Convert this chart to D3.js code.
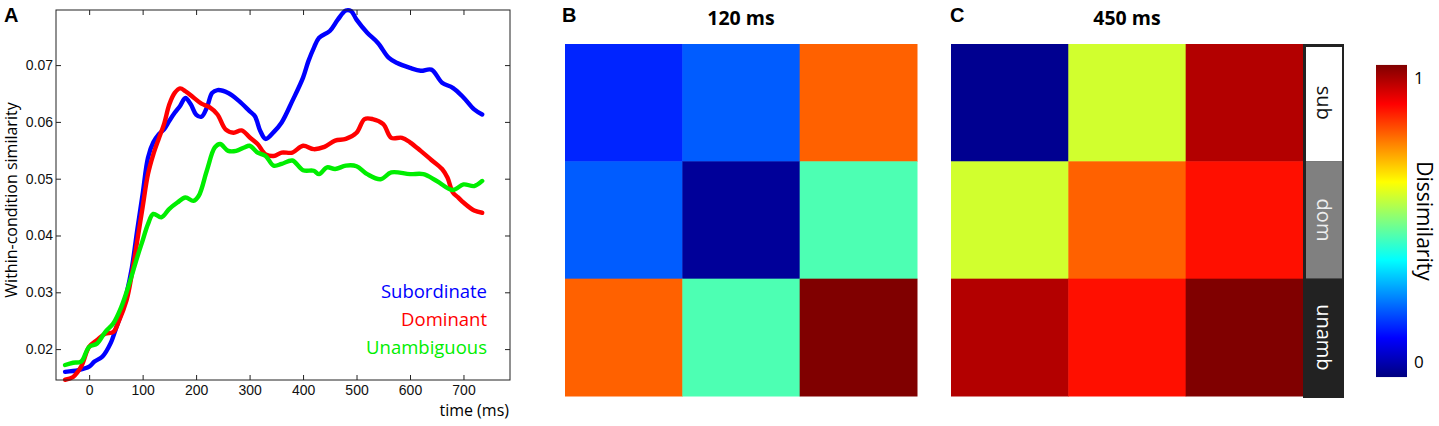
<!DOCTYPE html>
<html>
<head>
<meta charset="utf-8">
<script src="https://cdn.jsdelivr.net/npm/d3@7"></script>
<style>
  body { margin: 0; background: #fff; }
  svg { display: block; }
  .tick text { font-family: "Liberation Sans", Arial, sans-serif; font-size: 14px; fill: #111; }
</style>
</head>
<body>
<svg id="fig" width="1439" height="426"></svg>
<script>
// ---- data ----
var xTicks = [0, 100, 200, 300, 400, 500, 600, 700];
var yTicks = [0.02, 0.03, 0.04, 0.05, 0.06, 0.07];

// [time (ms), within-condition similarity]
var subordinate = [[-45,0.016],[-20,0.0163],[0,0.0169],[10,0.0178],[25,0.0187],[40,0.021],[50,0.0236],[60,0.0263],[70,0.0298],[80,0.0344],[90,0.041],[100,0.0473],[110,0.0537],[120,0.0564],[130,0.0578],[140,0.0587],[150,0.0602],[160,0.0616],[170,0.0628],[180,0.0642],[190,0.0631],[200,0.0613],[210,0.0609],[220,0.0625],[230,0.0651],[240,0.0656],[260,0.0651],[280,0.0637],[300,0.0619],[310,0.061],[320,0.0584],[330,0.057],[345,0.0582],[360,0.0599],[380,0.0637],[400,0.0678],[410,0.0707],[420,0.073],[430,0.0748],[450,0.076],[465,0.078],[480,0.0796],[490,0.0795],[500,0.078],[520,0.0757],[540,0.0739],[560,0.0713],[575,0.0704],[600,0.0695],[620,0.069],[640,0.0692],[660,0.0669],[680,0.066],[700,0.0643],[720,0.0622],[735,0.0613]];
var dominant = [[-45,0.0146],[-30,0.0151],[-15,0.0169],[0,0.0204],[15,0.0216],[30,0.0227],[45,0.023],[55,0.0248],[70,0.0286],[80,0.0333],[90,0.0391],[100,0.045],[110,0.0508],[120,0.0543],[130,0.057],[140,0.0596],[150,0.0631],[160,0.0651],[170,0.0659],[180,0.0654],[195,0.0643],[210,0.0632],[225,0.0626],[240,0.0613],[255,0.0587],[270,0.0581],[285,0.0585],[300,0.0573],[315,0.0561],[330,0.0543],[345,0.054],[360,0.0546],[380,0.0546],[400,0.0558],[420,0.0552],[440,0.0556],[460,0.0567],[480,0.057],[500,0.0581],[515,0.0605],[530,0.0605],[550,0.0596],[565,0.0572],[585,0.0572],[600,0.0564],[620,0.0549],[640,0.0533],[660,0.0517],[670,0.0502],[680,0.0476],[690,0.0467],[700,0.0458],[720,0.0444],[735,0.044]];
var unambiguous = [[-45,0.0172],[-30,0.0176],[-15,0.0178],[0,0.0204],[15,0.021],[30,0.023],[45,0.0245],[60,0.0274],[75,0.0315],[90,0.0362],[100,0.0391],[110,0.042],[120,0.0438],[135,0.0432],[150,0.0447],[165,0.0458],[180,0.0467],[195,0.0461],[205,0.047],[220,0.0514],[235,0.0555],[245,0.0561],[260,0.0549],[275,0.0549],[290,0.0555],[300,0.0558],[315,0.0546],[330,0.054],[345,0.0523],[360,0.0526],[380,0.0532],[400,0.0515],[420,0.0514],[430,0.0508],[445,0.052],[460,0.0517],[480,0.0523],[500,0.0522],[520,0.0508],[545,0.0499],[565,0.0511],[600,0.0508],[625,0.0508],[650,0.0496],[680,0.048],[700,0.049],[720,0.0487],[735,0.0496]];

var seriesNames = ["Subordinate", "Dominant", "Unambiguous"];
var seriesColors = ["#0000ff", "#ff0000", "#00ee00"];

// dissimilarity matrices (rows/cols: sub, dom, unamb)
var conditions = ["sub", "dom", "unamb"];
var rdm120 = [[0.16, 0.215, 0.78], [0.215, 0.025, 0.45], [0.78, 0.45, 1.0]];
var rdm450 = [[0.016, 0.58, 0.95], [0.58, 0.78, 0.86], [0.95, 0.86, 1.0]];
var cbTicks = [0, 1];

// MATLAB style jet colormap
function jet(v) {
  var c = function(a) { return Math.max(0, Math.min(1, a)); };
  var r = c(Math.min(4 * v - 1.5, -4 * v + 4.5)),
      g = c(Math.min(4 * v - 0.5, -4 * v + 3.5)),
      b = c(Math.min(4 * v + 0.5, -4 * v + 2.5));
  return d3.rgb(r * 255, g * 255, b * 255).formatHex();
}

var svg = d3.select("#fig");
var sans = "'Open Sans', 'DejaVu Sans', sans-serif";
var arial = "'Liberation Sans', Arial, sans-serif";

/* ---------- panel A ---------- */
var A = {left: 56, right: 510, top: 10, bottom: 380};
var x = d3.scaleLinear().domain([-62, 787]).range([A.left, A.right]);
var y = d3.scaleLinear().domain([0.01456, 0.0797]).range([A.bottom, A.top]);

var gA = svg.append("g");

gA.append("g").attr("transform", "translate(0," + A.bottom + ")")
  .call(d3.axisBottom(x).tickValues(xTicks).tickSizeInner(-5).tickSizeOuter(0).tickPadding(5).tickFormat(d3.format("d")))
  .call(function(g) { g.select(".domain").remove(); });
gA.append("g").attr("transform", "translate(0," + A.top + ")")
  .call(d3.axisTop(x).tickValues(xTicks).tickSizeInner(-5).tickSizeOuter(0).tickFormat(""))
  .call(function(g) { g.select(".domain").remove(); });
gA.append("g").attr("transform", "translate(" + A.left + ",0)")
  .call(d3.axisLeft(y).tickValues(yTicks).tickSizeInner(-5).tickSizeOuter(0).tickPadding(3).tickFormat(d3.format(".2f")))
  .call(function(g) { g.select(".domain").remove(); });
gA.append("g").attr("transform", "translate(" + A.right + ",0)")
  .call(d3.axisRight(y).tickValues(yTicks).tickSizeInner(-5).tickSizeOuter(0).tickFormat(""))
  .call(function(g) { g.select(".domain").remove(); });
gA.selectAll(".tick line").attr("stroke", "#222");

var line = d3.line()
  .x(function(d) { return x(d[0]); })
  .y(function(d) { return y(d[1]); })
  .curve(d3.curveCatmullRom.alpha(0.5));

[subordinate, dominant, unambiguous].forEach(function(s, i) {
  gA.append("path").datum(s)
    .attr("d", line)
    .attr("fill", "none")
    .attr("stroke", seriesColors[i])
    .attr("stroke-width", 4.4)
    .attr("stroke-linejoin", "round")
    .attr("stroke-linecap", "round");
});

gA.append("rect")
  .attr("x", A.left).attr("y", A.top)
  .attr("width", A.right - A.left).attr("height", A.bottom - A.top)
  .attr("fill", "none").attr("stroke", "#222").attr("stroke-width", 1);

// legend
gA.selectAll(".leg").data(seriesNames).enter().append("text")
  .attr("x", 487)
  .attr("y", function(d, i) { return 298 + i * 28; })
  .attr("text-anchor", "end")
  .attr("font-family", sans).attr("font-size", 18.5)
  .attr("fill", function(d, i) { return seriesColors[i]; })
  .text(function(d) { return d; });

gA.append("text").attr("x", 509).attr("y", 416).attr("text-anchor", "end")
  .attr("font-family", sans).attr("font-size", 16).text("time (ms)");
gA.append("text").attr("transform", "translate(17,200) rotate(-90)")
  .attr("text-anchor", "middle")
  .attr("font-family", sans).attr("font-size", 16).text("Within-condition similarity");

/* ---------- panels B and C ---------- */
function drawRdm(mat, left, title) {
  var size = 352, top = 44;
  var bx = d3.scaleBand().domain(conditions).range([left, left + size]);
  var by = d3.scaleBand().domain(conditions).range([top, top + size]);
  var cells = [];
  mat.forEach(function(row, i) {
    row.forEach(function(v, j) { cells.push({r: conditions[i], c: conditions[j], v: v}); });
  });
  var g = svg.append("g");
  g.selectAll("rect").data(cells).enter().append("rect")
    .attr("x", function(d) { return bx(d.c); })
    .attr("y", function(d) { return by(d.r); })
    .attr("width", bx.bandwidth() + 0.5)
    .attr("height", by.bandwidth() + 0.5)
    .attr("fill", function(d) { return jet(d.v); });
  g.append("text").attr("x", left + size / 2).attr("y", 25)
    .attr("text-anchor", "middle")
    .attr("font-family", sans).attr("font-weight", "bold").attr("font-size", 19.5)
    .text(title);
  return by;
}

drawRdm(rdm120, 565, "120 ms");
var byC = drawRdm(rdm450, 951, "450 ms");

// condition strip on the right of C
var strip = svg.append("g");
var stripFill = {sub: "#ffffff", dom: "#808080", unamb: "#222222"};
var stripText = {sub: "#111", dom: "#eee", unamb: "#fff"};
strip.append("rect").attr("x", 1303).attr("y", 44).attr("width", 41).attr("height", 354)
  .attr("fill", "#222");
strip.selectAll(".cell").data(conditions).enter().append("rect")
  .attr("x", 1306)
  .attr("y", function(d, i) { return i === 0 ? byC(d) + 3 : byC(d); })
  .attr("width", 36)
  .attr("height", function(d, i) { return i === 0 ? byC.bandwidth() - 3 : byC.bandwidth(); })
  .attr("fill", function(d) { return stripFill[d]; });
strip.selectAll(".lab").data(conditions).enter().append("text")
  .attr("transform", function(d) { return "translate(1317," + (byC(d) + byC.bandwidth() / 2) + ") rotate(90)"; })
  .attr("text-anchor", "middle")
  .attr("font-family", sans).attr("font-size", 20)
  .attr("fill", function(d) { return stripText[d]; })
  .text(function(d) { return d; });

// panel letters
[["A", 4, 22], ["B", 562, 22], ["C", 950, 22]].forEach(function(p) {
  svg.append("text").attr("x", p[1]).attr("y", p[2])
    .attr("font-family", arial).attr("font-weight", "bold").attr("font-size", 20)
    .text(p[0]);
});

/* ---------- colorbar ---------- */
var cbY = d3.scaleLinear().domain([0, 1]).range([362, 78]);
var cbTop = cbY(1.046), cbBot = cbY(-0.053);
var grad = svg.append("defs").append("linearGradient")
  .attr("id", "jetgrad").attr("x1", 0).attr("y1", 1).attr("x2", 0).attr("y2", 0);
grad.selectAll("stop").data(d3.range(0, 1.0001, 0.025)).enter().append("stop")
  .attr("offset", function(d) { return d; })
  .attr("stop-color", function(d) { return jet(d); });
svg.append("rect").attr("x", 1376).attr("y", cbTop).attr("width", 31).attr("height", cbBot - cbTop)
  .attr("fill", "url(#jetgrad)");
svg.selectAll(".cbt").data(cbTicks).enter().append("text")
  .attr("x", 1414).attr("y", function(d) { return cbY(d) + 6; })
  .attr("font-family", sans).attr("font-size", 17)
  .text(function(d) { return d; });
svg.append("text").attr("transform", "translate(1417,221) rotate(90)")
  .attr("text-anchor", "middle")
  .attr("font-family", sans).attr("font-size", 21)
  .text("Dissimilarity");
</script>
</body>
</html>
